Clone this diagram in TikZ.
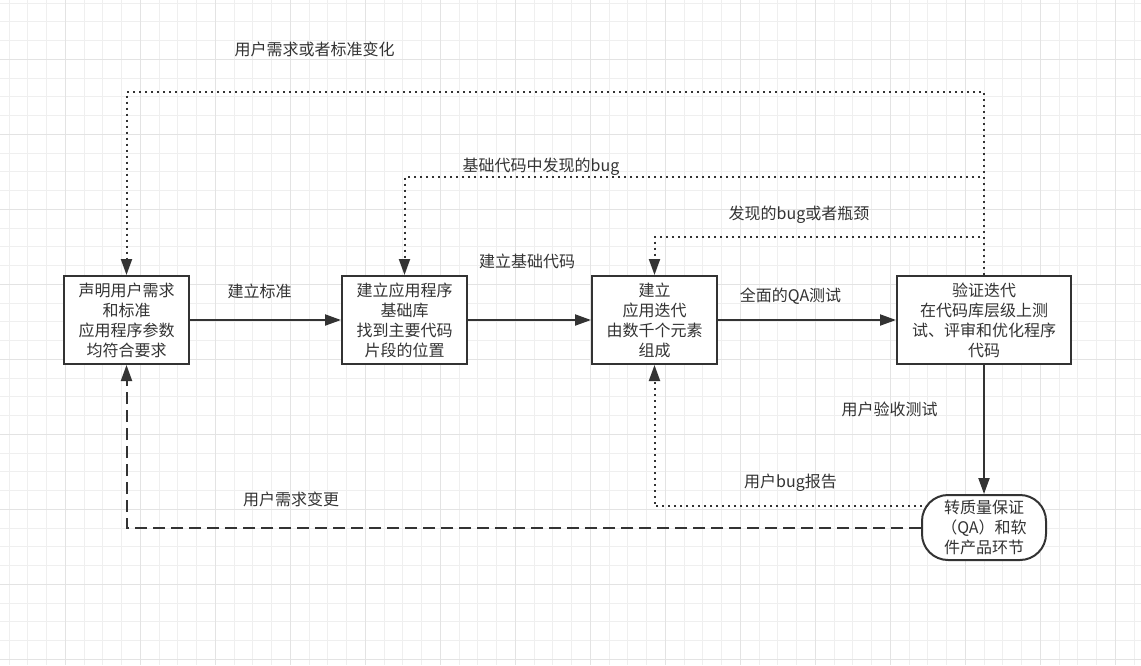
\documentclass[tikz,border=0pt]{standalone}
\usepackage{fontspec}
\setmainfont{Noto Sans CJK SC}
\usetikzlibrary{arrows.meta,positioning}
\definecolor{Ink}{HTML}{333333}
\definecolor{GridMinor}{HTML}{EFEFEF}
\definecolor{GridMajor}{HTML}{E3E3E3}
\tikzset{flow/.style={-{Triangle[length=16pt,width=11pt]},draw=Ink,line width=2pt},dotflow/.style={flow,dash pattern=on 2pt off 4pt},dashflow/.style={flow,dash pattern=on 12pt off 6pt},box/.style={draw=Ink,line width=2pt,fill=white,align=center,inner sep=2pt,minimum width=125pt,minimum height=88pt,text=Ink,font=\fontsize{16pt}{20pt}\selectfont},lbl/.style={text=Ink,inner sep=0pt,font=\fontsize{16pt}{20pt}\selectfont}}

\begin{document}
\begin{tikzpicture}[x=1pt,y=-1pt]
\useasboundingbox (0,0) rectangle (1141,665);
\fill[white] (0,0) rectangle (1141,665);
% grid paper
\foreach \i in {0,...,60} \draw[GridMinor,line width=1pt] ({9.05+18.75*\i},0) -- ({9.05+18.75*\i},665);
\foreach \j in {0,...,35} \draw[GridMinor,line width=1pt] (0,{3.05+18.75*\j}) -- (1141,{3.05+18.75*\j});
\foreach \i in {0,...,14} \draw[GridMajor,line width=1pt] ({65.3+75*\i},0) -- ({65.3+75*\i},665);
\foreach \j in {0,...,8} \draw[GridMajor,line width=1pt] (0,{59.3+75*\j}) -- (1141,{59.3+75*\j});
% stages
\node[box] (req) at (126.5,320) {声明用户需求\\和标准\\应用程序参数\\均符合要求};
\node[box,right=151pt of req] (base) {建立应用程序\\基础库\\找到主要代码\\片段的位置};
\node[box,right=123pt of base] (iter) {建立\\应用迭代\\由数千个元素\\组成};
\node[box,minimum width=174pt,right=178pt of iter] (verify) {验证迭代\\在代码库层级上测\\试、评审和优化程序\\代码};
\node[box,minimum width=124pt,minimum height=65pt,rounded corners=26pt,below=129pt of verify] (qa) {转质量保证\\（QA）和软\\件产品环节};
% forward flow
\draw[flow] (req) -- (base);\draw[flow] (base) -- (iter);\draw[flow] (iter) -- (verify);\draw[flow] (verify) -- (qa);
% feedback loops
\draw[dotflow] (verify.north) |- ([yshift=183pt]req.north) -- (req.north);
\draw[dotflow] (verify.north) |- ([yshift=98pt]base.north) -- (base.north);
\draw[dotflow] (verify.north) |- ([yshift=38pt]iter.north) -- (iter.north);
\draw[dotflow] ([shift={(7pt,21.5pt)}]qa.west) -| (iter.south);
\draw[dashflow] (qa.west) -| (req.south);
% labels
\node[lbl] (lblreq) at (314.5,49) {用户需求或者标准变化};
\node[lbl] (lblbase) at (541,167) {基础代码中发现的bug};
\node[lbl] (lbliter) at (799,215) {发现的bug或者瓶颈};
\node[lbl] (lblstd) at (259.5,291) {建立标准};
\node[lbl] (lblcode) at (527,261) {建立基础代码};
\node[lbl] (lblqa) at (790.5,296) {全面的QA测试};
\node[lbl] (lblaccept) at (889.5,409) {用户验收测试};
\node[lbl] (lblbug) at (790.5,483) {用户bug报告};
\node[lbl] (lblchange) at (291,499) {用户需求变更};
\end{tikzpicture}
\end{document}
